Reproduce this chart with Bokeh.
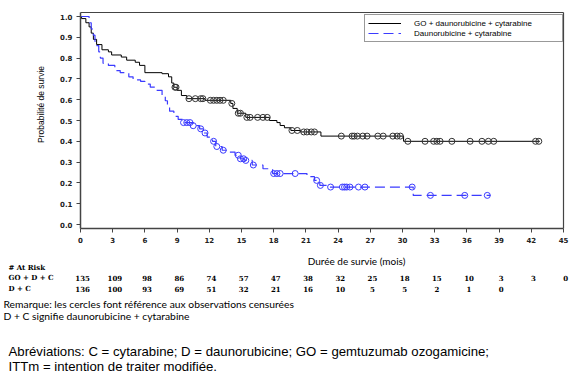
import numpy as np
from bokeh.plotting import figure
from bokeh.models import (Range1d, FixedTicker, Legend, LegendItem, LinearAxis,
                          PrintfTickFormatter)
from bokeh.embed import file_html
from bokeh.resources import INLINE
from bokeh.core.properties import value

# ---------------- data ----------------
go_times = [0, 0.1, 0.5, 0.8, 1.0, 1.2, 1.5, 2.0, 2.6, 2.9, 3.8, 4.3, 5.1, 5.5, 6.0, 7.6, 8.2, 8.5,
            8.7, 9.0, 9.4, 9.9, 11.6, 14.0, 14.2, 14.6, 15.4, 17.6, 18.3, 18.6, 19.0, 19.6, 20.5, 22.4, 30.1]
go_surv = [1.0, 0.99, 0.97, 0.95, 0.92, 0.89, 0.865, 0.84, 0.83, 0.815, 0.805, 0.79, 0.78, 0.765, 0.73,
           0.725, 0.71, 0.68, 0.66, 0.645, 0.62, 0.605, 0.597, 0.582, 0.558, 0.535, 0.515, 0.50, 0.49,
           0.476, 0.465, 0.452, 0.445, 0.425, 0.40]
go_end = 42.8
go_censor = [8.8, 8.9, 10.1, 10.7, 11.2, 11.4, 12.1, 12.4, 12.7, 13.0, 13.3, 14.1, 14.7, 14.9, 15.5,
             15.8, 16.5, 17.0, 17.4, 19.7, 20.2, 20.8, 21.1, 21.5, 21.8, 24.3, 25.3, 25.5, 25.8, 26.3,
             26.7, 27.7, 28.2, 29.1, 29.5, 29.8, 30.5, 32.1, 32.9, 33.2, 33.5, 34.6, 36.3, 37.4, 38.0,
             38.5, 42.4, 42.7]

dc_times = [0, 0.8, 1.0, 1.2, 1.35, 1.5, 1.7, 1.85, 2.1, 2.6, 3.2, 3.7, 4.5, 4.9, 5.6, 6.0, 6.5, 7.0,
            7.6, 7.9, 8.1, 8.3, 8.7, 9.1, 9.6, 10.5, 11.1, 11.5, 11.8, 12.3, 12.6, 13.2, 13.9, 14.4,
            14.9, 15.3, 16.0, 17.0, 17.9, 21.1, 21.8, 22.3, 23.2, 31.0]
dc_surv = [1.0, 0.97, 0.94, 0.91, 0.88, 0.86, 0.83, 0.80, 0.775, 0.765, 0.74, 0.73, 0.71, 0.695, 0.688,
           0.675, 0.66, 0.645, 0.62, 0.595, 0.57, 0.545, 0.52, 0.505, 0.49, 0.475, 0.46, 0.44, 0.42,
           0.40, 0.375, 0.357, 0.348, 0.333, 0.316, 0.308, 0.286, 0.268, 0.245, 0.23, 0.212, 0.188,
           0.18, 0.14]
dc_end = 38.2
dc_censor = [9.6, 9.9, 10.2, 10.5, 11.2, 11.6, 12.4, 12.7, 13.3, 14.7, 14.9, 15.2, 15.4, 16.1, 18.0,
             18.3, 18.6, 20.0, 22.0, 22.35, 23.3, 24.4, 24.6, 24.8, 25.1, 25.9, 26.5, 30.9, 32.6,
             35.8, 37.9]

x_ticks = [0, 3, 6, 9, 12, 15, 18, 21, 24, 27, 30, 33, 36, 39, 42, 45]
y_ticks = [0.0, 0.1, 0.2, 0.3, 0.4, 0.5, 0.6, 0.7, 0.8, 0.9, 1.0]
risk_times = [0, 3, 6, 9, 12, 15, 18, 21, 24, 27, 30, 33, 36, 39, 42, 45]
go_risk = [135, 109, 98, 86, 74, 57, 47, 38, 32, 25, 18, 15, 10, 3, 3, 0]
dc_risk = [136, 100, 93, 69, 51, 32, 21, 16, 10, 5, 5, 2, 1, 0]

go_label = "GO + daunorubicine + cytarabine"
dc_label = "Daunorubicine + cytarabine"
x_title = "Durée de survie (mois)"
y_title = "Probabilité de survie"
risk_title = "# At Risk"
go_row = "GO + D + C"
dc_row = "D + C"
note1 = "Remarque: les cercles font référence aux observations censurées"
note2 = "D + C  signifie daunorubicine + cytarabine"
abbr1 = "Abréviations: C = cytarabine; D = daunorubicine; GO = gemtuzumab ozogamicine;"
abbr2 = "ITTm = intention de traiter modifiée."

BLUE = "#3b3bff"
W, H = 580, 374
# plot box in canvas pixels: x 0 -> 80, x 45 -> 563 ; y 1.0 -> 16, y 0.0 -> 224
KX = (563 - 80) / 45.0
KY = 208.0
X_LO, X_HI = 0, 45
Y_LO, Y_HI = -4 / KY, 1 + 4 / KY


def dx(px):      # canvas pixel -> data x
    return (px - 80) / KX


def dy(py):      # canvas pixel -> data y
    return (224 - py) / KY


def surv_at(times, surv, t):
    idx = np.searchsorted(np.array(times), np.array(t), side="right") - 1
    return np.array(surv)[idx]


p = figure(width=W, height=H, x_range=Range1d(dx(0), dx(W)), y_range=Range1d(dy(H), dy(0)),
           output_backend="svg", toolbar_location=None, min_border=0,
           x_axis_location=None, y_axis_location=None)
p.grid.visible = False
p.outline_line_color = None


def style_axis(ax, labels=True):
    ax.axis_line_color = "#444444"
    ax.axis_line_width = 1.5
    ax.major_tick_line_color = "#444444"
    ax.major_tick_out = 4 if labels else 0
    ax.major_tick_in = 0
    ax.minor_tick_out = 0
    ax.minor_tick_in = 0
    ax.major_label_text_font = "DejaVu Sans"
    ax.major_label_text_font_style = "bold"
    ax.major_label_text_font_size = "7px"
    ax.major_label_text_color = "#222222"
    ax.major_label_standoff = 4
    if not labels:
        ax.major_label_text_font_size = "0px"


xaxis = LinearAxis(fixed_location=Y_LO, bounds=(X_LO, X_HI), ticker=FixedTicker(ticks=x_ticks))
style_axis(xaxis)
p.add_layout(xaxis, "below")

yaxis = LinearAxis(fixed_location=X_LO, bounds=(Y_LO, Y_HI), ticker=FixedTicker(ticks=y_ticks),
                   formatter=PrintfTickFormatter(format="%.1f"))
style_axis(yaxis)
p.add_layout(yaxis, "left")

top_axis = LinearAxis(fixed_location=Y_HI, bounds=(X_LO, X_HI), ticker=FixedTicker(ticks=[]))
style_axis(top_axis, labels=False)
top_axis.axis_line_width = 1.2
p.add_layout(top_axis, "above")

right_axis = LinearAxis(fixed_location=X_HI, bounds=(Y_LO, Y_HI), ticker=FixedTicker(ticks=[]))
style_axis(right_axis, labels=False)
right_axis.axis_line_width = 1.2
p.add_layout(right_axis, "right")

# ---------------- KM curves ----------------
r_go = p.step(go_times + [go_end], go_surv + [go_surv[-1]], mode="after",
              line_color="black", line_width=1)
r_dc = p.step(dc_times + [dc_end], dc_surv + [dc_surv[-1]], mode="after",
              line_color=BLUE, line_width=1.2, line_dash="10 5")
p.scatter(go_censor, surv_at(go_times, go_surv, go_censor), marker="circle", size=6,
          fill_color=None, line_color="#333333", line_width=1)
p.scatter(dc_censor, surv_at(dc_times, dc_surv, dc_censor), marker="circle", size=6,
          fill_color=None, line_color=BLUE, line_width=1)


def add_text(x, y, texts, font, size, style="normal", align="left", angle=0.0):
    p.text(x=x, y=y, text=texts, text_font=value(font), text_font_size=size,
           text_font_style=style, text_align=align, text_baseline="middle",
           text_color="black", angle=angle)


# axis titles
add_text([dx(40)], [dy(104)], [y_title], "Liberation Sans", "8.5px", align="center", angle=np.pi / 2)
add_text([dx(356)], [dy(260)], [x_title], "Lato", "10px", align="center")

# risk table
add_text([dx(8)] * 3, [dy(267), dy(277), dy(288)], [risk_title, go_row, dc_row],
         "DejaVu Serif", "7px", style="bold")
add_text([t + 0.2 for t in risk_times[:len(go_risk)]], [dy(277)] * len(go_risk),
         [str(v) for v in go_risk], "DejaVu Serif", "7px", style="bold", align="center")
add_text([t + 0.2 for t in risk_times[:len(dc_risk)]], [dy(288)] * len(dc_risk),
         [str(v) for v in dc_risk], "DejaVu Serif", "7px", style="bold", align="center")

# notes
add_text([dx(3), dx(3)], [dy(303), dy(315.5)], [note1, note2], "Lato", "10.3px")
add_text([dx(8), dx(8)], [dy(351), dy(366)], [abbr1, abbr2], "Liberation Sans", "13.2px")

legend = Legend(items=[LegendItem(label=go_label, renderers=[r_go]),
                       LegendItem(label=dc_label, renderers=[r_dc])],
                location=(364, H - 42), orientation="vertical")
legend.border_line_color = "#333333"
legend.border_line_width = 1
legend.background_fill_color = "white"
legend.padding = 3
legend.spacing = 0
legend.margin = 0
legend.glyph_width = 33
legend.glyph_height = 10
legend.label_height = 10
legend.label_width = 145
legend.label_standoff = 13
legend.label_text_font = "Liberation Sans"
legend.label_text_font_size = "8px"
legend.label_text_color = "black"
p.add_layout(legend)

open("out.html", "w").write(file_html(p, INLINE))
